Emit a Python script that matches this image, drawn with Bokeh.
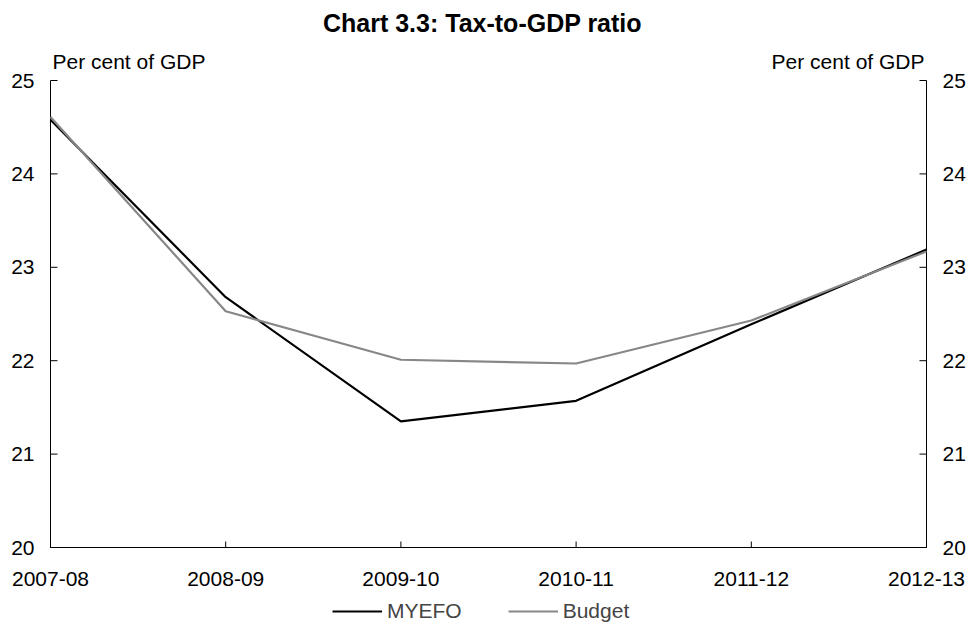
from bokeh.plotting import figure
from bokeh.models import Range1d, Legend, LegendItem, Label
from bokeh.core.properties import value
from bokeh.embed import file_html
from bokeh.resources import INLINE

# Financial years and tax-to-GDP ratios (per cent of GDP)
years = ["2007-08", "2008-09", "2009-10", "2010-11", "2011-12", "2012-13"]
myefo = [24.58, 22.68, 21.35, 21.57, 22.39, 23.19]
budget = [24.61, 22.53, 22.01, 21.97, 22.43, 23.17]
yticks = [20, 21, 22, 23, 24, 25]
title_text = "Chart 3.3: Tax-to-GDP ratio"
unit_text = "Per cent of GDP"

FONT = "Liberation Sans"
W, H = 968, 626
PLOT_LEFT, PLOT_RIGHT = 50, 926         # pixel columns of the first and last year
PLOT_TOP, PLOT_BOTTOM = 80, 547          # pixel rows of the 25 and 20 levels
xpos = list(range(len(years)))
x_lo, x_hi = xpos[0], xpos[-1]
y_lo, y_hi = yticks[0], yticks[-1]
pxx = (PLOT_RIGHT - PLOT_LEFT) / (x_hi - x_lo)   # pixels per year
pxy = (PLOT_BOTTOM - PLOT_TOP) / (y_hi - y_lo)   # pixels per percentage point

# The frame covers the whole page; the axes are drawn in data space so that
# the captions, tick labels and legend all sit inside it.
p = figure(width=W, height=H, output_backend="svg", toolbar_location=None,
           x_range=Range1d(x_lo - PLOT_LEFT / pxx, x_hi + (W - PLOT_RIGHT) / pxx),
           y_range=Range1d(y_lo - (H - PLOT_BOTTOM) / pxy, y_lo + PLOT_BOTTOM / pxy),
           x_axis_location=None, y_axis_location=None, min_border=0)
p.frame_width = W
p.frame_height = H
p.outline_line_color = None
p.xgrid.visible = False
p.ygrid.visible = False

n_y = len(yticks)
n_x = len(xpos)
axis_style = dict(line_color="black", line_width=1)
label_style = dict(text_font=value(FONT), text_font_size="21px", text_color="black")

# Vertical axes on both sides: spine, inward ticks, labels
p.segment(x0=[x_lo, x_hi], y0=[y_lo, y_lo], x1=[x_lo, x_hi], y1=[y_hi, y_hi], **axis_style)
p.segment(x0=[x_lo] * n_y, y0=yticks, x1=[x_lo + 7 / pxx] * n_y, y1=yticks, **axis_style)
p.segment(x0=[x_hi] * n_y, y0=yticks, x1=[x_hi - 7 / pxx] * n_y, y1=yticks, **axis_style)
p.text(x=[x_lo - 16 / pxx] * n_y, y=yticks, text=[str(t) for t in yticks],
       text_align="right", text_baseline="middle", **label_style)
p.text(x=[x_hi + 16 / pxx] * n_y, y=yticks, text=[str(t) for t in yticks],
       text_align="left", text_baseline="middle", **label_style)

# Category axis along the 20 level: baseline, inward ticks, year labels
p.segment(x0=[x_lo], y0=[y_lo], x1=[x_hi], y1=[y_lo], **axis_style)
p.segment(x0=xpos, y0=[y_lo] * n_x, x1=xpos, y1=[y_lo + 6 / pxy] * n_x, **axis_style)
p.text(x=xpos, y=[y_lo - 31 / pxy] * n_x, text=years,
       text_align="center", text_baseline="middle", **label_style)

r_myefo = p.line(xpos, myefo, line_color="black", line_width=2.2)
r_budget = p.line(xpos, budget, line_color="#878787", line_width=2.2)

legend = Legend(items=[LegendItem(label="MYEFO", renderers=[r_myefo]),
                       LegendItem(label="Budget", renderers=[r_budget])],
                orientation="horizontal", location=(332, 3),
                padding=0, margin=0, spacing=46,
                glyph_width=50, glyph_height=20, label_height=20,
                label_standoff=5, border_line_alpha=0, background_fill_alpha=0,
                label_text_font=FONT, label_text_font_size="21px")
p.add_layout(legend, "center")

title = Label(x=(x_lo + x_hi) / 2, y=y_hi, x_offset=-6, y_offset=58, text=title_text,
              text_font=FONT, text_font_size="25px", text_font_style="bold",
              text_align="center", text_baseline="alphabetic", text_color="black")
unit_l = Label(x=x_lo, y=y_hi, x_offset=2, y_offset=19, text=unit_text,
               text_font=FONT, text_font_size="21px", text_align="left",
               text_baseline="alphabetic", text_color="black")
unit_r = Label(x=x_hi, y=y_hi, x_offset=-2, y_offset=19, text=unit_text,
               text_font=FONT, text_font_size="21px", text_align="right",
               text_baseline="alphabetic", text_color="black")
for lab in (title, unit_l, unit_r):
    p.add_layout(lab)

open("out.html", "w").write(file_html(p, INLINE))
